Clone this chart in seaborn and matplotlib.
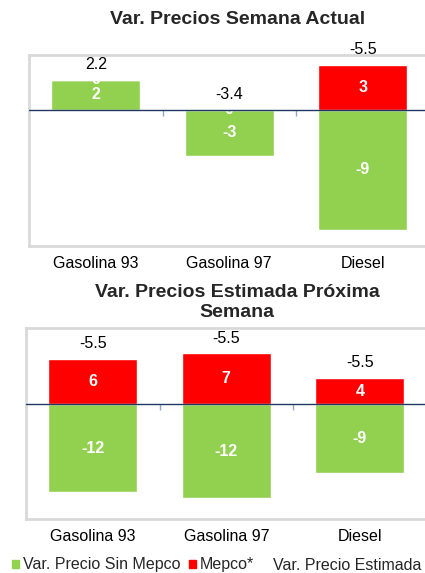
import numpy as np
import matplotlib
matplotlib.use('Agg')
import matplotlib.pyplot as plt
import matplotlib.patches as mpatches
from matplotlib.lines import Line2D
import seaborn as sns

# Datos
categorias = ['Gasolina 93', 'Gasolina 97', 'Diesel']

# Semana actual
sin_mepco_actual = [2.2, -3.4, -8.8]
mepco_actual = [0.0, 0.0, 3.3]
estimada_actual = ['2.2', '-3.4', '-5.5']

# Proxima semana (estimada)
sin_mepco_prox = [-11.5, -12.2, -9.0]
mepco_prox = [6.0, 6.7, 3.5]
estimada_prox = ['-5.5', '-5.5', '-5.5']

VERDE = '#92d050'
ROJO = '#ff0000'

sns.set_theme(style='white')
plt.rcParams['font.family'] = ['Liberation Sans', 'DejaVu Sans']

fig = plt.figure(figsize=(4.25, 5.73), dpi=100)

def grafico(ax, verde, rojo, etiquetas, ylim):
    verde = np.array(verde)
    rojo = np.array(rojo)
    base = np.clip(verde, 0, None)
    sns.barplot(x=categorias, y=verde, color=VERDE, saturation=1, width=0.667, ax=ax)
    sns.barplot(x=categorias, y=rojo, bottom=base, color=ROJO, saturation=1, width=0.667, ax=ax)
    for cont in ax.containers:
        ax.bar_label(cont, fmt='%.0f', label_type='center', color='white',
                     fontweight='bold', fontsize=11.5)
    tope = base + np.clip(rojo, 0, None)
    for i, txt in enumerate(etiquetas):
        ax.annotate(txt, (i, tope[i]), xytext=(0, 15), textcoords='offset pixels',
                    ha='center', va='center', fontsize=11.5, color='black')
    ax.axhline(0, color='#1f3864', lw=1, zorder=3)
    ax.plot([-0.5, 0.5, 1.5, 2.5], [0, 0, 0, 0], ls='none', marker=3, ms=4,
            color='#8ea9c8', clip_on=False)
    ax.set_xlim(-0.5, 2.5)
    ax.set_ylim(*ylim)
    ax.set_yticks([])
    ax.tick_params(axis='x', length=0, pad=7, labelsize=11.5, colors='black')
    for s in ax.spines.values():
        s.set_color('#d9d9d9')
        s.set_linewidth(2)
    ax.set_xlabel('')
    ax.set_ylabel('')

ax1 = fig.add_axes([29 / 425, 1 - 246 / 573, 400.5 / 425, 191 / 573])
grafico(ax1, sin_mepco_actual, mepco_actual, estimada_actual, (-10, 4))

ax2 = fig.add_axes([26 / 425, 1 - 519 / 573, 400.5 / 425, 191 / 573])
grafico(ax2, sin_mepco_prox, mepco_prox, estimada_prox, (-15, 10))

fig.text(238 / 425, 1 - 20 / 573, 'Var. Precios Semana Actual', ha='center', va='center',
         fontsize=14, fontweight='bold')
fig.text(237 / 425, 1 - 302.5 / 573, 'Var. Precios Estimada Próxima\nSemana', ha='center',
         va='center', fontsize=14, fontweight='bold', linespacing=1.3)

handles = [mpatches.Patch(color=VERDE), mpatches.Patch(color=ROJO),
           Line2D([], [], ls='none')]
fig.legend(handles, ['Var. Precio Sin Mepco', 'Mepco*', 'Var. Precio Estimada'],
           loc='center left', bbox_to_anchor=(12 / 425, 1 - 565 / 573), ncol=3,
           frameon=False, fontsize=11.5, handlelength=0.45, handleheight=0.45,
           handletextpad=0.25, columnspacing=0.5, borderpad=0, borderaxespad=0)

fig.savefig('out.png', dpi=100)
